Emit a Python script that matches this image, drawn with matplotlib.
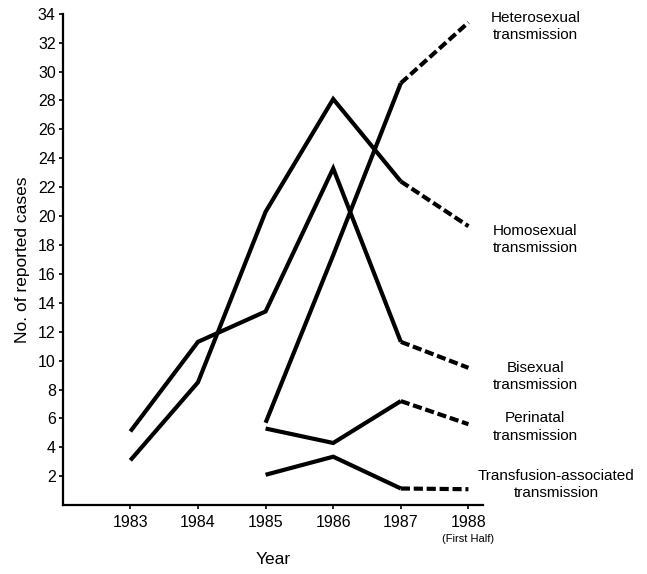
import matplotlib.pyplot as plt
import numpy as np

plt.rcParams["font.family"] = ["Liberation Sans Narrow", "Liberation Sans", "DejaVu Sans"]

years = [1983, 1984, 1985, 1986, 1987, 1988]
homosexual = [3.1, 8.5, 20.3, 28.1, 22.4, 19.3]
bisexual = [5.1, 11.3, 13.4, 23.3, 11.3, 9.5]
heterosexual = [None, None, 5.7, 17.3, 29.2, 33.4]
perinatal = [None, None, 5.3, 4.3, 7.2, 5.6]
transfusion = [None, None, 2.1, 3.35, 1.15, 1.1]

series = [heterosexual, homosexual, bisexual, perinatal, transfusion]
labels = [
    "Heterosexual\ntransmission",
    "Homosexual\ntransmission",
    "Bisexual\ntransmission",
    "Perinatal\ntransmission",
    "Transfusion-associated\ntransmission",
]
label_y = [33.1, 18.4, 8.9, 5.4, 1.45]
label_x = [1988.99, 1988.99, 1988.99, 1988.99, 1989.3]

fig = plt.figure(figsize=(6.47, 5.74), dpi=100)
ax = fig.add_axes([0.097, 0.120, 0.650, 0.856])

for vals in series:
    xs = np.array([y for y, v in zip(years, vals) if v is not None], dtype=float)
    ys = np.array([v for v in vals if v is not None], dtype=float)
    # solid through 1987, dashed for the 1988 half-year
    ax.plot(xs[:-1], ys[:-1], color="black", lw=3.0, solid_joinstyle="miter",
            solid_capstyle="butt", clip_on=False)
    ax.plot(xs[-2:], ys[-2:], color="black", lw=3.0, dashes=(2.2, 0.9),
            dash_capstyle="butt", clip_on=False)

for text, x, y in zip(labels, label_x, label_y):
    ax.text(x, y, text, ha="center", va="center", fontsize=11,
            linespacing=1.3, clip_on=False)

ax.set_xlim(1982.0, 1988.22)
ax.set_ylim(0, 34)
ax.set_xticks(years)
ax.set_xticklabels([str(y) for y in years])
ax.set_yticks(np.arange(2, 35, 2))
ax.tick_params(axis="both", length=3, width=1.2, labelsize=11.5, direction="out")
ax.tick_params(axis="x", pad=4)
ax.tick_params(axis="y", pad=2)
ax.text(1988, -0.068, "(First Half)", transform=ax.get_xaxis_transform(),
        ha="center", va="center", fontsize=8)

for side in ("top", "right"):
    ax.spines[side].set_visible(False)
for side in ("left", "bottom"):
    ax.spines[side].set_linewidth(1.6)

ax.set_xlabel("Year", fontsize=12.5, labelpad=16)
ax.set_ylabel("No. of reported cases", fontsize=12.5, labelpad=6)

fig.savefig("out.png", dpi=100)
